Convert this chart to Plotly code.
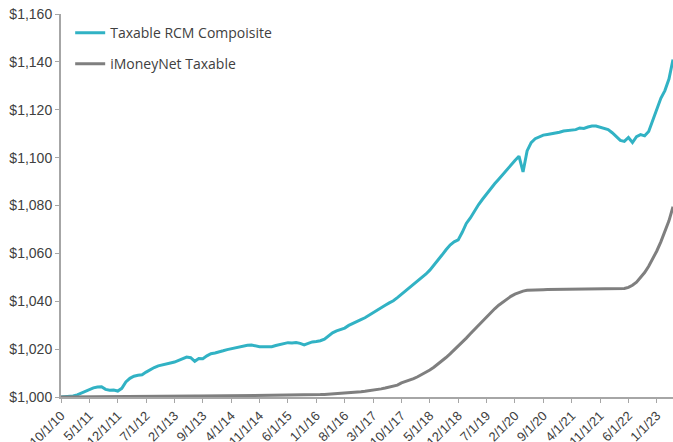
import pandas as pd
import plotly.graph_objects as go

# Monthly dates (category labels)
dates = pd.date_range("2010-10-01", periods=152, freq="MS")
categories = [f"{d.month}/{d.day}/{d.strftime('%y')}" for d in dates]

rcm_composite = [
    1000.0, 1000.1, 1000.2, 1000.4, 1000.9, 1001.6, 1002.4, 1003.2, 1003.8, 1004.2, 1004.3, 1003.2,
    1002.8, 1002.9, 1002.5, 1003.6, 1006.3, 1007.8, 1008.7, 1009.1, 1009.3, 1010.4, 1011.4, 1012.3,
    1013.0, 1013.5, 1013.9, 1014.2, 1014.6, 1015.2, 1015.9, 1016.7, 1016.4, 1014.9, 1016.1, 1016.0,
    1017.2, 1018.1, 1018.4, 1018.7, 1019.3, 1019.8, 1020.2, 1020.6, 1021.0, 1021.3, 1021.6, 1021.7,
    1021.3, 1021.0, 1021.0, 1021.1, 1021.0, 1021.5, 1022.0, 1022.3, 1022.7, 1022.6, 1022.8, 1022.4,
    1021.8, 1022.4, 1023.0, 1023.2, 1023.5, 1024.2, 1025.6, 1026.8, 1027.6, 1028.2, 1028.8, 1029.9,
    1030.8, 1031.5, 1032.3, 1033.1, 1034.2, 1035.3, 1036.4, 1037.3, 1038.3, 1039.3, 1040.2, 1041.5,
    1042.9, 1044.2, 1045.4, 1046.9, 1048.2, 1049.7, 1051.3, 1053.0, 1055.0, 1057.0, 1059.3, 1061.5,
    1063.5, 1064.8, 1065.6, 1068.8, 1072.5, 1074.8, 1077.7, 1080.3, 1082.6, 1084.9, 1087.0, 1089.1,
    1091.0, 1093.0, 1095.2, 1097.1, 1098.8, 1100.6, 1094.0, 1102.8, 1106.3, 1107.9, 1108.8, 1109.4,
    1109.7, 1109.9, 1110.2, 1110.6, 1111.1, 1111.3, 1111.2, 1111.7, 1112.4, 1112.2, 1112.8, 1113.2,
    1113.2, 1112.6, 1112.0, 1111.7, 1110.4, 1109.0, 1107.2, 1106.8, 1108.4, 1106.3, 1108.8, 1109.6,
    1109.1, 1110.9, 1115.5, 1120.5, 1124.8, 1128.0, 1132.8, 1141.0,
]

imoneynet_taxable = [
    1000.00, 1000.02, 1000.03, 1000.05, 1000.06, 1000.08, 1000.09, 1000.10, 1000.12, 1000.13, 1000.14, 1000.15,
    1000.17, 1000.18, 1000.19, 1000.20, 1000.21, 1000.22, 1000.23, 1000.24, 1000.25, 1000.26, 1000.27, 1000.28,
    1000.29, 1000.30, 1000.31, 1000.32, 1000.33, 1000.34, 1000.35, 1000.36, 1000.37, 1000.38, 1000.39, 1000.40,
    1000.41, 1000.42, 1000.43, 1000.44, 1000.45, 1000.46, 1000.47, 1000.48, 1000.49, 1000.50, 1000.51, 1000.52,
    1000.53, 1000.54, 1000.55, 1000.56, 1000.57, 1000.58, 1000.59, 1000.60, 1000.62, 1000.64, 1000.66, 1000.70,
    1000.75, 1000.80, 1000.86, 1000.93, 1001.00, 1001.08, 1001.17, 1001.27, 1001.37, 1001.48, 1001.60, 1001.73,
    1001.87, 1002.02, 1002.18, 1002.36, 1002.56, 1002.80, 1003.08, 1003.40, 1003.75, 1004.12, 1004.52, 1004.95,
    1005.90, 1006.45, 1007.05, 1007.70, 1008.45, 1009.30, 1010.25, 1011.30, 1012.45, 1013.70, 1015.05, 1016.50,
    1018.00, 1019.55, 1021.15, 1022.85, 1024.60, 1026.40, 1028.20, 1030.00, 1031.80, 1033.55, 1035.25, 1036.85,
    1038.35, 1039.70, 1040.95, 1042.05, 1043.00, 1043.75, 1044.25, 1044.55, 1044.70, 1044.78, 1044.82, 1044.85,
    1044.87, 1044.89, 1044.90, 1044.91, 1044.92, 1044.93, 1044.94, 1044.95, 1044.96, 1044.97, 1044.98, 1044.99,
    1045.00, 1045.01, 1045.02, 1045.03, 1045.05, 1045.07, 1045.10, 1045.30, 1045.80, 1046.70, 1048.00, 1049.80,
    1052.00, 1054.60, 1057.60, 1061.00, 1064.80, 1069.00, 1073.60, 1079.50,
]

tick_labels = categories[::7]
y_ticks = [1000, 1020, 1040, 1060, 1080, 1100, 1120, 1140, 1160]

fig = go.Figure()
fig.add_trace(go.Scatter(
    x=categories, y=rcm_composite, mode="lines", name="Taxable RCM Compoisite",
    line=dict(color="#31B2C4", width=3), legendgroup="a",
))
fig.add_trace(go.Scatter(
    x=categories, y=imoneynet_taxable, mode="lines", name="iMoneyNet Taxable",
    line=dict(color="#7F7F7F", width=3), legendgroup="b",
))

fig.update_layout(
    width=673, height=442,
    margin=dict(l=61, r=0, t=14, b=45, autoexpand=False),
    paper_bgcolor="white", plot_bgcolor="white",
    font=dict(family="Arial", color="#404040"),
    showlegend=True,
    legend=dict(
        x=0.015, y=0.992, xanchor="left", yanchor="top",
        font=dict(family="Open Sans", size=14, color="#404040"),
        bgcolor="rgba(0,0,0,0)", traceorder="grouped", tracegroupgap=10,
    ),
    xaxis=dict(
        type="category", range=[0, 151], automargin=False,
        tickmode="array", tickvals=tick_labels, ticktext=tick_labels,
        tickangle=-45, ticks="outside", ticklen=4, tickcolor="#A6A6A6", tickwidth=1,
        showline=True, linecolor="#A6A6A6", linewidth=2,
        showgrid=False, zeroline=False,
        tickfont=dict(family="Arial", size=13, color="#404040"),
    ),
    yaxis=dict(
        range=[1000, 1160], tickmode="array", tickvals=y_ticks, automargin=False,
        tickformat="$,.0f",
        ticks="outside", ticklen=4, tickcolor="#A6A6A6", tickwidth=1,
        showline=True, linecolor="#A6A6A6", linewidth=2,
        showgrid=False, zeroline=False,
        tickfont=dict(family="Arial", size=14, color="#404040"),
    ),
)

fig.write_html(
    "out.html",
    config={"displayModeBar": False},
    post_script="document.body.style.margin='0';document.body.style.padding='0';",
)
